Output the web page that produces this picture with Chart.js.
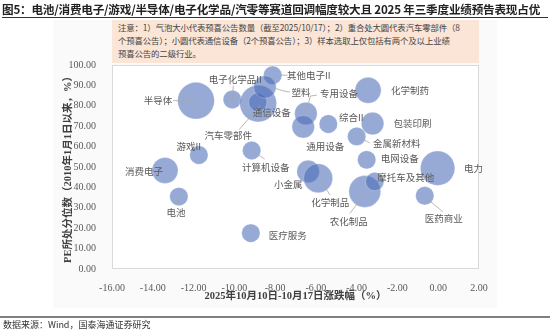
<!DOCTYPE html>
<html>
<head>
<meta charset="utf-8">
<script src="https://cdn.jsdelivr.net/npm/chart.js@4/dist/chart.umd.min.js"></script>
<style>
  body { margin: 0; width: 550px; height: 331px; background: #fff; position: relative; overflow: hidden; font-family: "Noto Sans CJK SC", sans-serif; }
  #bg { position: absolute; left: 53px; top: 20px; width: 444px; height: 288px; background: #fafafa; }
  #myChart { position: absolute; left: 0; top: 0; }
  #titulo { position: absolute; left: 2px; top: 1px; width: 546px; font-size: 11.6px; font-weight: bold; color: #222; white-space: nowrap; line-height: 16px; border-bottom: 1.5px solid #333; letter-spacing: -0.2px; }
  #nota { position: absolute; left: 112px; top: 20px; width: 355px; height: 42px; padding: 1px 6px 0 6px; background: #fbe5d6; font-size: 8.4px; line-height: 13px; color: #444; white-space: nowrap; letter-spacing: -0.1px; }
  #fuente { position: absolute; left: 0; top: 316px; width: 548px; border-top: 2px solid #808080; font-size: 9px; color: #333; padding-left: 3px; line-height: 14px; }
</style>
</head>
<body>
<div id="bg"></div>
<canvas id="myChart" width="550" height="331"></canvas>
<div id="titulo">图5：电池/消费电子/游戏/半导体/电子化学品/汽零等赛道回调幅度较大且 2025 年三季度业绩预告表现占优</div>
<div id="nota">注意：1）气泡大小代表预喜公告数量（截至2025/10/17）；2）重合处大圆代表汽车零部件（8<br>个预喜公告）；小圆代表通信设备（2个预喜公告）；3）样本选取上仅包括有两个及以上业绩<br>预喜公告的二级行业。</div>
<div id="fuente">数据来源：Wind，国泰海通证券研究</div>
<script>
// industrias, variación semanal (%), percentil PE, número de preavisos
const industrias = ["半导体", "电子化学品II", "汽车零部件", "通信设备", "其他电子II", "塑料", "专用设备",
  "通用设备", "综合II", "化学制药", "包装印刷", "金属新材料", "电网设备", "电力", "小金属", "化学制品",
  "农化制品", "摩托车及其他", "医药商业", "医疗服务", "游戏II", "消费电子", "电池", "计算机设备"];
const variacion = [-11.88, -10.10, -8.83, -8.85, -8.12, -8.50, -6.49,
  -6.62, -5.39, -3.44, -3.22, -4.00, -3.51, -0.03, -6.38, -5.89,
  -3.60, -3.11, -0.66, -9.19, -11.74, -13.40, -12.72, -9.15];
const percentil = [82.5, 83.1, 81.1, 81.8, 95.0, 89.2, 76.2,
  69.7, 71.1, 87.6, 71.3, 65.0, 53.5, 49.4, 47.8, 44.5,
  38.0, 42.9, 35.9, 17.6, 55.9, 48.3, 35.5, 58.1];
const avisos = [8, 2, 8, 2, 2, 3, 3,
  3, 2, 4, 3, 2, 2, 7, 3, 5,
  6, 2, 2, 2, 2, 4, 2, 2];
const ticksX = [-16, -14, -12, -10, -8, -6, -4, -2, 0, 2];
const ticksY = [0, 10, 20, 30, 40, 50, 60, 70, 80, 90, 100];

// posicion de cada etiqueta respecto a la burbuja (px) y linea guia opcional
const etiquetas = [
  { dx: -38, dy: 0, linea: [[-23, 0], [0, 0]] },
  { dx: 3, dy: -20, linea: [[1, -14], [0, 2]] },
  { dx: -30, dy: 32, linea: [[-19, 26], [2, 2]] },
  { dx: 14, dy: 10 },
  { dx: 36, dy: 0, linea: [[8, 0], [15, 0]] },
  { dx: 36, dy: 5, linea: [[11, 1.5], [19, 4], [25, 5]] },
  { dx: 33, dy: -20, linea: [[0, 0], [4.5, -17.5], [11, -18.5]] },
  { dx: 22, dy: 20 },
  { dx: 23, dy: -7 },
  { dx: 42, dy: 0 },
  { dx: 40, dy: 0 },
  { dx: 40, dy: 6.5, linea: [[2, 0.5], [13, 6.5]] },
  { dx: 33, dy: -1 },
  { dx: 36, dy: 0 },
  { dx: -20, dy: 13 },
  { dx: 12, dy: 24, linea: [[2, 1], [12, 17]] },
  { dx: -16, dy: 30, linea: [[0, 2], [-15, 22]] },
  { dx: 31, dy: -4 },
  { dx: 19, dy: 23, linea: [[0, 1], [18, 16]] },
  { dx: 37, dy: 2 },
  { dx: -10, dy: -9 },
  { dx: -21, dy: 1 },
  { dx: -3, dy: 16, linea: [[0, 1], [-3, 8]] },
  { dx: 14, dy: 17, linea: [[1.5, 1], [13, 8.5]] }
];

const puntos = industrias.map((n, i) => ({ x: variacion[i], y: percentil[i], r: 6.5 * Math.sqrt(avisos[i]) }));

const marco = {
  id: "marco",
  beforeDatasetsDraw(chart) {
    const { ctx, chartArea: a } = chart;
    ctx.save();
    ctx.fillStyle = "#ffffff";
    ctx.fillRect(a.left, a.top, a.right - a.left, a.bottom - a.top);
    ctx.strokeStyle = "#d9d9d9";
    ctx.lineWidth = 1;
    ctx.strokeRect(a.left + 0.5, a.top + 0.5, a.right - a.left - 1, a.bottom - a.top - 1);
    ctx.restore();
  },
  afterDatasetsDraw(chart) {
    const { ctx } = chart;
    const meta = chart.getDatasetMeta(0);
    ctx.save();
    ctx.font = '9.5px "Noto Sans CJK SC"';
    ctx.fillStyle = "#595959";
    ctx.textAlign = "center";
    ctx.textBaseline = "middle";
    ctx.strokeStyle = "#a6a6a6";
    ctx.lineWidth = 0.8;
    meta.data.forEach((el, i) => {
      const e = etiquetas[i];
      if (e.linea) {
        ctx.beginPath();
        e.linea.forEach((p, k) => {
          if (k === 0) ctx.moveTo(el.x + p[0], el.y + p[1]);
          else ctx.lineTo(el.x + p[0], el.y + p[1]);
        });
        ctx.stroke();
      }
      ctx.fillText(industrias[i], el.x + e.dx, el.y + e.dy);
    });
    ctx.restore();
  }
};

const fuenteTicks = { family: '"Liberation Serif", serif', size: 10 };

const config = {
  type: "bubble",
  data: {
    datasets: [{
      label: "行业",
      data: puntos,
      backgroundColor: "rgba(70, 104, 180, 0.56)",
      borderColor: "rgba(255, 255, 255, 0.5)",
      borderWidth: 0.5,
      hoverBorderWidth: 0.5
    }]
  },
  options: {
    responsive: false,
    animation: false,
    layout: { padding: { left: 53, right: 71, top: 65, bottom: 22 } },
    plugins: { legend: { display: false }, tooltip: { enabled: false } },
    scales: {
      x: {
        type: "linear",
        min: ticksX[0],
        max: ticksX[ticksX.length - 1],
        afterBuildTicks: (s) => { s.ticks = ticksX.map(v => ({ value: v })); },
        afterFit: (s) => { s.height = 40; },
        grid: { display: false },
        border: { display: false },
        ticks: { color: "#595959", font: fuenteTicks, padding: 5, maxRotation: 0, callback: (v) => v.toFixed(2) },
        title: {
          display: true,
          text: "2025年10月10日-10月17日涨跌幅（%）",
          color: "#404040",
          font: { family: '"Liberation Serif", "Noto Sans CJK SC", serif', size: 10.5, weight: "bold" },
          padding: { top: 0, bottom: 6 }
        }
      },
      y: {
        type: "linear",
        min: ticksY[0],
        max: ticksY[ticksY.length - 1],
        afterBuildTicks: (s) => { s.ticks = ticksY.map(v => ({ value: v })); },
        afterFit: (s) => { s.width = 59; },
        grid: { display: false },
        border: { display: false },
        ticks: { color: "#595959", font: fuenteTicks, padding: 8, callback: (v) => v.toFixed(2) },
        title: {
          display: true,
          text: "PE所处分位数（2010年1月1日以来，%）",
          color: "#404040",
          font: { family: '"Liberation Serif", "Noto Sans CJK SC", serif', size: 10.5, weight: "bold" },
          padding: { top: 9, bottom: 0 }
        }
      }
    }
  },
  plugins: [marco]
};

myChart = new Chart(document.getElementById("myChart"), config);
</script>
</body>
</html>
